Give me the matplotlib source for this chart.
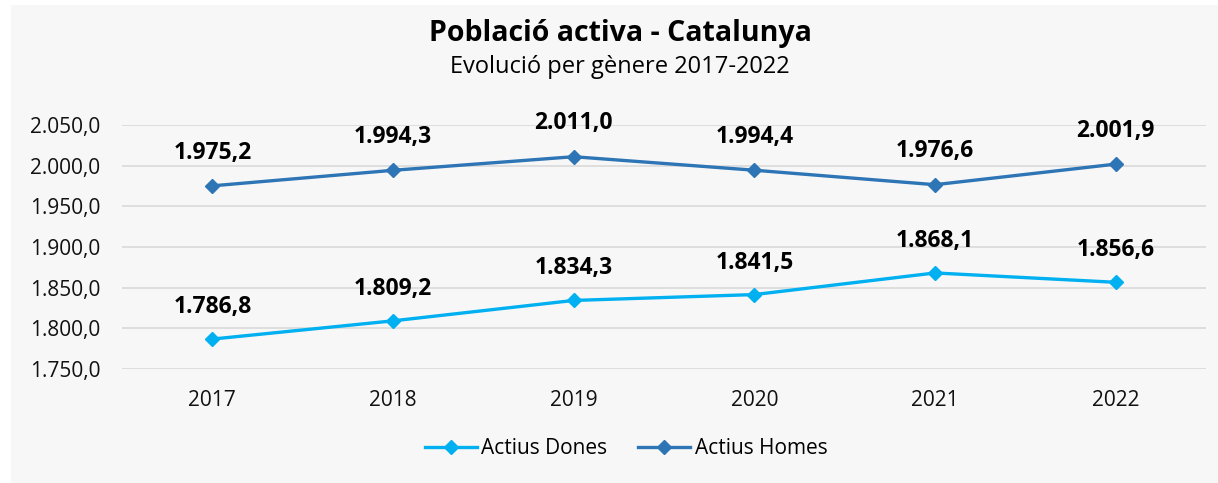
import matplotlib.pyplot as plt
from matplotlib.patches import Rectangle
from matplotlib.ticker import FuncFormatter

plt.rcParams["font.family"] = ["Open Sans", "DejaVu Sans"]

years = ["2017", "2018", "2019", "2020", "2021", "2022"]
dones = [1786.8, 1809.2, 1834.3, 1841.5, 1868.1, 1856.6]
homes = [1975.2, 1994.3, 2011.0, 1994.4, 1976.6, 2001.9]

COLOR_DONES = "#00b0f0"
COLOR_HOMES = "#2e75b6"
PANEL = "#f7f7f7"


def fmt_num(v, _pos=None):
    """Catalan style: dot for thousands, comma for decimals"""
    s = f"{v:,.1f}"
    return s.replace(",", "X").replace(".", ",").replace("X", ".")


fig = plt.figure(figsize=(12.18, 4.83), dpi=100)
fig.patch.set_facecolor("white")
# gray chart panel
fig.patches.append(Rectangle((11 / 1218, 0), 1, 1 - 5 / 483,
                             transform=fig.transFigure, facecolor=PANEL,
                             edgecolor="none", zorder=-10))

ax = fig.add_axes([122 / 1218, 114 / 483, 1084 / 1218, 244 / 483])
ax.set_facecolor("none")

x = list(range(len(years)))
ax.plot(x, dones, color=COLOR_DONES, lw=2.4, marker="D", ms=7,
        label="Actius Dones", zorder=3)
ax.plot(x, homes, color=COLOR_HOMES, lw=2.4, marker="D", ms=7,
        label="Actius Homes", zorder=3)

for xi, v in zip(x, dones):
    ax.annotate(fmt_num(v), (xi, v), xytext=(0, 23), textcoords="offset points",
                ha="center", va="center", fontsize=16.5, fontweight="bold")
for xi, v in zip(x, homes):
    ax.annotate(fmt_num(v), (xi, v), xytext=(0, 24), textcoords="offset points",
                ha="center", va="center", fontsize=16.5, fontweight="bold")

ax.set_xlim(-0.5, len(years) - 0.5)
ax.set_ylim(1750, 2050)
ax.set_yticks(range(1750, 2051, 50))
ax.yaxis.set_major_formatter(FuncFormatter(fmt_num))
ax.set_xticks(x)
ax.set_xticklabels(years)
ax.grid(axis="y", color="#d9d9d9", lw=1.2)
ax.set_axisbelow(True)
for sp in ax.spines.values():
    sp.set_visible(False)
ax.tick_params(axis="both", length=0, labelsize=15, colors="#111111")
ax.tick_params(axis="x", pad=15)
ax.tick_params(axis="y", pad=15.5)

fig.text(620 / 1218, 1 - 34 / 483, "Població activa - Catalunya",
         ha="center", va="center", fontsize=20.5, fontweight="bold")
fig.text(620 / 1218, 1 - 67 / 483, "Evolució per gènere 2017-2022",
         ha="center", va="center", fontsize=17)

fig.legend(loc="center", bbox_to_anchor=(626 / 1218, 1 - 449 / 483), ncol=2,
           frameon=False, fontsize=15, handlelength=2.5, handletextpad=0.2,
           columnspacing=1.5)

fig.savefig("out.png", dpi=100, facecolor=fig.get_facecolor())
